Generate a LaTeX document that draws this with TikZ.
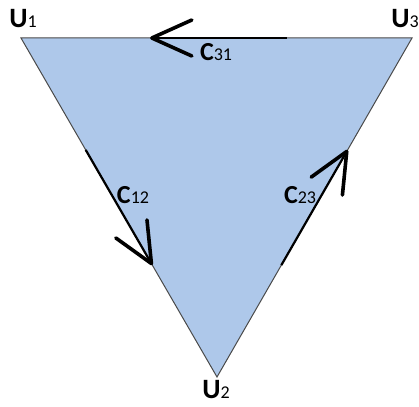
\documentclass[tikz,border=0pt]{standalone}
\usepackage{fontspec}
\setmainfont{Carlito}
\usepackage{tikz}
\usetikzlibrary{arrows.meta,calc}
\definecolor{cyclefill}{HTML}{AEC8EA}
\definecolor{cycleedge}{HTML}{4A4A4A}

\newcommand{\vlabel}[2]{{\fontsize{28}{28}\selectfont\bfseries #1}{\fontsize{18}{18}\selectfont #2}}
\newcommand{\clabel}[2]{{\fontsize{26}{26}\selectfont\bfseries #1}{\fontsize{18}{18}\selectfont #2}}

\begin{document}
\begin{tikzpicture}[x=1pt,y=-1pt,
  flow/.style={line width=2.2pt,-{Straight Barb[length=40pt,width=36pt,line width=3.6pt,round]}}]
  \useasboundingbox (0,0) rectangle (419,406);
  \coordinate (u1) at (21,38);
  \coordinate (u2) at (217,377);
  \coordinate (u3) at (412,38);
  \fill[cyclefill] (u1) -- (u3) -- (u2) -- cycle;
  \draw[cycleedge,line width=1pt] (u1) -- (u3) -- (u2) -- cycle;
  % arrows along the edges
  \coordinate (c12a) at ($(u1)!0.33!(u2)$);
  \coordinate (c12b) at ($(u1)!0.67!(u2)$);
  \coordinate (c23a) at ($(u2)!0.33!(u3)$);
  \coordinate (c23b) at ($(u2)!0.67!(u3)$);
  \coordinate (c31a) at ($(u3)!0.32!(u1)$);
  \coordinate (c31b) at ($(u3)!0.67!(u1)$);
  \draw[flow] (c12a) -- (c12b);
  \draw[flow] (c23a) -- (c23b);
  \draw[flow] (c31a) -- (c31b);
  % labels
  \node[inner sep=1pt] (n1) at (23,19) {\vlabel{U}{1}};
  \node[inner sep=1pt] (n2) at (216,390) {\vlabel{U}{2}};
  \node[inner sep=1pt] (n3) at (405,19) {\vlabel{U}{3}};
  \node (l12) at (133,195) {\clabel{C}{12}};
  \node (l23) at (300,195) {\clabel{C}{23}};
  \node (l31) at (216,52) {\clabel{C}{31}};
\end{tikzpicture}
\end{document}
